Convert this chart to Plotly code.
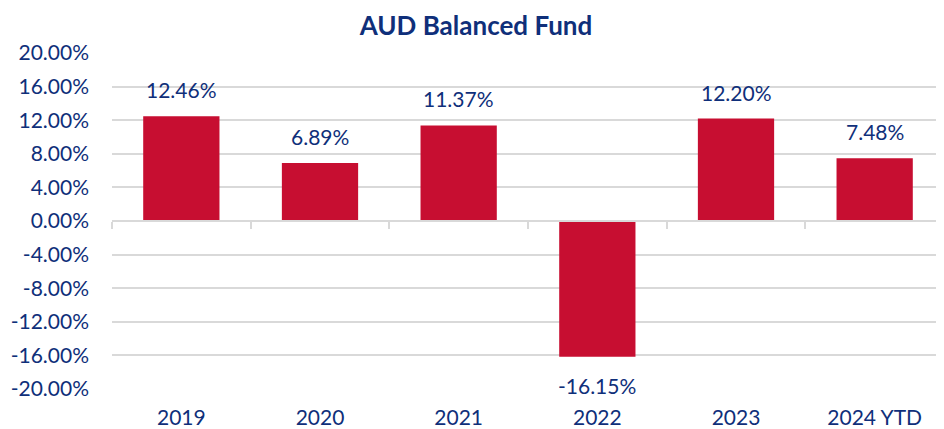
import plotly.graph_objects as go

categories = ["2019", "2020", "2021", "2022", "2023", "2024 YTD"]
returns = [12.46, 6.89, 11.37, -16.15, 12.20, 7.48]
labels = ["12.46%", "6.89%", "11.37%", "-16.15%", "12.20%", "7.48%"]
y_ticks = [-20, -16, -12, -8, -4, 0, 4, 8, 12, 16, 20]
y_tick_text = [f"{v:.2f}%" for v in y_ticks]

NAVY = "#0F2F7A"
BAR = "#C70E31"
GRID = "#D9D9D9"
FONT = "Lato"
FS = 21

fig = go.Figure()
fig.add_trace(go.Bar(
    x=categories, y=returns, marker_color=BAR, marker_line_width=0,
    hoverinfo="skip", showlegend=False,
))

for i, (v, t) in enumerate(zip(returns, labels)):
    fig.add_annotation(
        x=i, y=v, xref="x", yref="y", text=t, showarrow=False,
        yanchor="bottom" if v >= 0 else "top",
        yshift=12 if v >= 0 else -14,
        font=dict(family=FONT, size=FS, color=NAVY),
    )

# category-boundary tick axis along zero line
fig.add_trace(go.Scatter(x=[None], y=[None], xaxis="x2", showlegend=False, hoverinfo="skip"))

# page body has an 8px default margin; size the figure to fit the window
fig.update_layout(
    width=936, height=421,
    margin=dict(l=104, r=0, t=45, b=40),
    paper_bgcolor="white", plot_bgcolor="white",
    bargap=0.45,
    title=dict(text="<b>AUD Balanced Fund</b>", x=0.5, xanchor="center", y=0.958, yanchor="middle",
               font=dict(family=FONT, size=26, color=NAVY)),
    font=dict(family=FONT, size=FS, color=NAVY),
    xaxis=dict(type="category", showgrid=False, showline=False, ticks="",
               tickfont=dict(family=FONT, size=FS, color=NAVY), ticklabelstandoff=14,
               range=[-0.5, 5.5], automargin=False),
    xaxis2=dict(overlaying="x", anchor="free", position=0.5, range=[-0.5, 5.5],
                showline=True, linecolor=GRID, linewidth=1.5,
                ticks="outside", ticklen=7, tickcolor=GRID, tickwidth=1.5,
                tickvals=[i - 0.5 for i in range(len(categories) + 1)],
                showticklabels=False, showgrid=False, zeroline=False, automargin=False),
    yaxis=dict(range=[-20, 20], tickvals=y_ticks, ticktext=y_tick_text,
               showgrid=True, gridcolor=GRID, gridwidth=1.5, zeroline=False,
               showline=False, ticks="", ticklabelstandoff=22, automargin=False,
               tickfont=dict(family=FONT, size=FS, color=NAVY)),
)

fig.write_html("out.html")
